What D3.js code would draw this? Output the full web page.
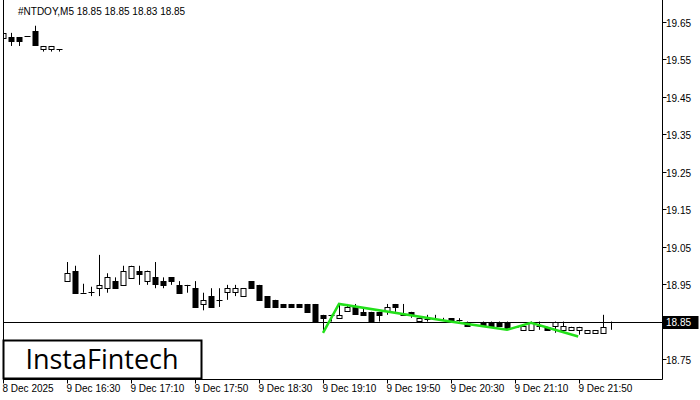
<!DOCTYPE html>
<html><head><meta charset="utf-8">
<script src="https://cdn.jsdelivr.net/npm/d3@7"></script>
<style>body{margin:0;background:#fff}svg{display:block}</style>
</head><body><svg id="c" width="700" height="400"></svg>
<script>
const opens  =[19.607,19.61,19.61,19.612,19.627,19.577,19.577,19.577,18.958,18.986,18.927,18.930,18.939,18.939,18.958,18.948,18.968,18.986,18.958,18.968,18.958,18.968,18.948,18.948,18.939,18.897,18.918,18.908,18.927,18.927,18.918,18.958,18.948,18.918,18.908,18.897,18.897,18.897,18.897,18.897,18.868,18.868,18.859,18.876,18.888,18.876,18.876,18.876,18.876,18.897,18.868,18.876,18.85,18.857,18.857,18.853,18.859,18.853,18.85,18.85,18.85,18.85,18.85,18.85,18.836,18.828,18.828,18.838,18.836,18.838,18.828,18.828,18.828,18.82,18.82,18.82,18.85];
const closes =[19.621,19.599,19.599,19.612,19.589,19.586,19.586,19.577,18.979,18.927,18.927,18.930,18.948,18.968,18.939,18.986,18.999,18.979,18.986,18.948,18.948,18.956,18.927,18.948,18.889,18.908,18.889,18.908,18.939,18.939,18.939,18.939,18.908,18.889,18.889,18.889,18.889,18.889,18.876,18.85,18.859,18.868,18.868,18.888,18.868,18.868,18.85,18.868,18.888,18.888,18.868,18.868,18.859,18.857,18.857,18.853,18.85,18.853,18.838,18.85,18.838,18.838,18.838,18.832,18.836,18.838,18.85,18.838,18.828,18.85,18.838,18.836,18.836,18.827,18.827,18.836,18.85];
const highs  =[19.621,19.621,19.61,19.612,19.64,19.586,19.586,19.577,19.009,18.999,18.951,18.943,19.028,18.979,18.968,18.999,18.999,18.999,18.986,19.009,18.968,18.968,18.958,18.948,18.958,18.927,18.939,18.939,18.948,18.948,18.939,18.958,18.948,18.918,18.908,18.897,18.897,18.897,18.897,18.897,18.868,18.868,18.897,18.897,18.897,18.885,18.876,18.876,18.897,18.897,18.897,18.876,18.859,18.868,18.868,18.86,18.859,18.859,18.85,18.85,18.85,18.85,18.85,18.85,18.836,18.838,18.85,18.85,18.836,18.85,18.85,18.836,18.836,18.827,18.827,18.868,18.85];
const lows   =[19.607,19.586,19.586,19.612,19.589,19.571,19.571,19.571,18.956,18.927,18.927,18.918,18.918,18.927,18.939,18.948,18.968,18.948,18.948,18.939,18.939,18.948,18.927,18.927,18.889,18.88,18.889,18.889,18.908,18.918,18.918,18.939,18.908,18.889,18.889,18.889,18.889,18.889,18.876,18.85,18.82,18.85,18.859,18.876,18.868,18.868,18.85,18.85,18.868,18.876,18.868,18.86,18.85,18.85,18.857,18.853,18.85,18.85,18.838,18.85,18.838,18.838,18.838,18.832,18.836,18.828,18.828,18.828,18.828,18.82,18.828,18.828,18.815,18.82,18.82,18.82,18.828];
const patIdx =[40,42,55.9,63,66,71.9];
const patVal =[18.82,18.897,18.85,18.828,18.847,18.81];
const priceTicks=[19.65,19.55,19.45,19.35,19.25,19.15,19.05,18.95,18.85,18.75];
const timeIdx=[0,8,16,24,32,40,48,56,64,72];
const timeLabels=["8 Dec 2025","9 Dec 16:30","9 Dec 17:10","9 Dec 17:50","9 Dec 18:30","9 Dec 19:10","9 Dec 19:50","9 Dec 20:30","9 Dec 21:10","9 Dec 21:50"];
const last=18.85;

const svg=d3.select("#c");
const L=3.5,R=662.5,B=379.5;
const x=d3.scaleLinear().domain([0,76]).range([3,611]);
const y=d3.scaleLinear().domain([18.75,19.65]).range([359,22]);
const f="'Liberation Sans', Arial, sans-serif";
svg.append("defs").append("clipPath").attr("id","cp").append("rect").attr("x",L).attr("y",0).attr("width",R-L).attr("height",B);
const g=svg.append("g").attr("clip-path","url(#cp)");
g.append("line").attr("x1",L).attr("x2",R).attr("y1",Math.round(y(last))+0.5).attr("y2",Math.round(y(last))+0.5).attr("stroke","#000");
opens.forEach((o,i)=>{
  const c=closes[i],cx=Math.round(x(i))+0.5;
  g.append("line").attr("x1",cx).attr("x2",cx).attr("y1",y(highs[i])).attr("y2",y(lows[i])).attr("stroke","#000");
  const t=y(Math.max(o,c)),b=y(Math.min(o,c));
  if(b-t<1) g.append("line").attr("x1",cx-3).attr("x2",cx+3).attr("y1",Math.round(t)+0.5).attr("y2",Math.round(t)+0.5).attr("stroke","#000");
  else g.append("rect").attr("x",cx-2.5).attr("y",Math.round(t)+0.5).attr("width",5).attr("height",Math.round(b-t)).attr("fill",c>o?"#fff":"#000").attr("stroke","#000");
});
g.append("path").datum(patIdx.map((d,i)=>[x(d),y(patVal[i])])).attr("d",d3.line()).attr("fill","none").attr("stroke","#22e01a").attr("stroke-width",2.5);
svg.append("path").attr("d",`M${L},0V${B}H${R}V0`).attr("fill","none").attr("stroke","#000");
priceTicks.forEach(p=>{
  const yy=Math.round(y(p))+0.5;
  svg.append("line").attr("x1",R).attr("x2",R+4).attr("y1",yy).attr("y2",yy).attr("stroke","#000");
  svg.append("text").attr("x",666).attr("y",yy+4).attr("font-family",f).attr("font-size",10).text(p.toFixed(2));
});
const ly=Math.round(y(last));
svg.append("rect").attr("x",R).attr("y",ly-6).attr("width",36).attr("height",13).attr("fill","#000");
svg.append("text").attr("x",666).attr("y",ly+4).attr("fill","#fff").attr("font-family",f).attr("font-size",10).text(last.toFixed(2));
timeIdx.forEach((ti,k)=>{
  const xx=Math.round(x(ti))+0.5;
  svg.append("line").attr("x1",xx).attr("x2",xx).attr("y1",B).attr("y2",B+4).attr("stroke","#000");
  svg.append("text").attr("x",xx-1).attr("y",392).attr("font-family",f).attr("font-size",10).text(timeLabels[k]);
});
svg.append("text").attr("x",18).attr("y",15).attr("font-family",f).attr("font-size",10).attr("fill","#000").text("#NTDOY,M5  18.85 18.85 18.83 18.85");
svg.append("rect").attr("x",3.5).attr("y",340.5).attr("width",198).attr("height",38).attr("fill","#fff").attr("stroke","#000").attr("stroke-width",2);
svg.append("text").attr("x",102).attr("y",369).attr("text-anchor","middle").attr("font-family","'Open Sans', sans-serif").attr("font-size",27).attr("fill","#000").text("InstaFintech");
</script></body></html>
